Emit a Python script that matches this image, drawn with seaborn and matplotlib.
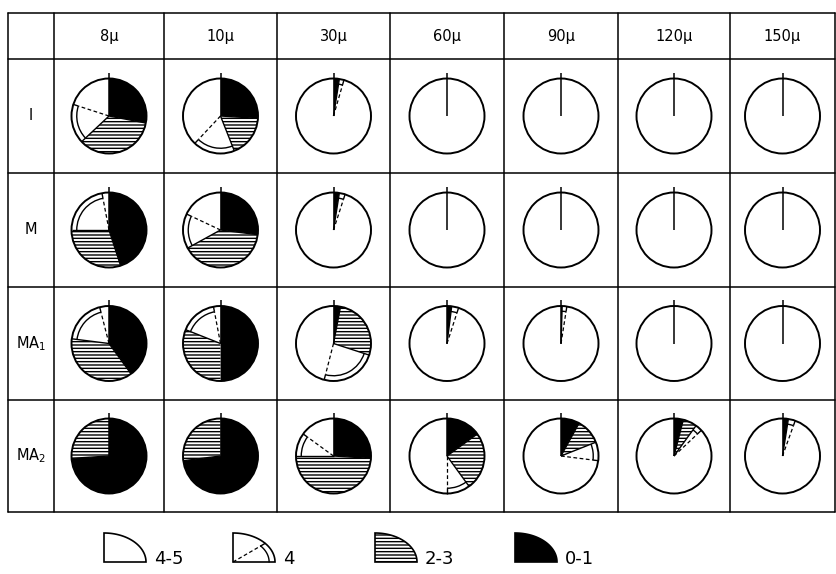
import numpy as np
import matplotlib
matplotlib.use("Agg")
import matplotlib.pyplot as plt
from matplotlib.patches import Arc, Circle, Polygon
import seaborn as sns

sns.set_theme(style="white")
plt.rcParams['font.family'] = ['DejaVu Sans']
plt.rcParams['hatch.linewidth'] = 1.0
plt.rcParams['hatch.color'] = 'black'

row_labels = ["I", "M", "MA$_1$", "MA$_2$"]
col_labels = ["8μ", "10μ", "30μ", "60μ", "90μ", "120μ", "150μ"]
legend_labels = ["4-5", "4", "2-3", "0-1"]

# percent of each grade (rows: I, M, MA1, MA2; columns: 8 .. 150 μ)
grade_0_1 = [[28, 26, 2.5, 0, 0, 0, 0],
             [45, 27, 2.5, 0, 0, 0, 0],
             [40, 50, 3, 2, 0.5, 0, 0],
             [74, 73, 26, 15, 8, 4, 2.5]]
grade_2_3 = [[35, 18, 0, 0, 0, 0, 0],
             [30, 40, 0, 0, 0, 0, 0],
             [37, 31, 27, 0, 0, 0, 0],
             [26, 27, 49, 25, 11, 6, 0]]
grade_4 = [[17, 18, 2, 0, 0, 0, 0],
           [22, 15, 2.5, 0, 0, 0, 0],
           [19, 16, 24, 3, 2, 0, 0],
           [0, 0, 10, 10, 8, 3, 3]]
grade_4_5 = [[20, 38, 95.5, 100, 100, 100, 100],
             [3, 18, 95, 100, 100, 100, 100],
             [4, 3, 46, 95, 97.5, 100, 100],
             [0, 0, 15, 50, 73, 87, 94.5]]

W, H = 836, 574
fig = plt.figure(figsize=(W / 100, H / 100), dpi=100)
ax = fig.add_axes([0, 0, 1, 1])

col_edges = [8, 54, 164, 277, 390, 504, 618, 730, 835]
row_edges = [13, 59, 173, 287, 400, 512]
R = 37.5
RIN = 0.86 * R


def Y(y):
    return H - y


def ray(cx, cy, a, r0, r1, **kw):
    t = np.deg2rad(a)
    ax.plot([cx + r0 * np.cos(t), cx + r1 * np.cos(t)],
            [cy + r0 * np.sin(t), cy + r1 * np.sin(t)],
            color='black', solid_capstyle='butt', **kw)


for i in range(len(row_labels)):
    for j in range(len(col_labels)):
        cx = (col_edges[j + 1] + col_edges[j + 2]) / 2
        cy = Y((row_edges[i + 1] + row_edges[i + 2]) / 2)
        vals = [grade_0_1[i][j], grade_2_3[i][j], grade_4[i][j], grade_4_5[i][j]]
        wedges, _ = ax.pie(vals, colors=['black', 'white', 'white', 'white'],
                           startangle=90, counterclock=False, center=(cx, cy),
                           radius=R, wedgeprops=dict(linewidth=0, edgecolor='black'))
        wedges[1].set_hatch('-----')
        total = sum(vals)
        cum = np.cumsum(vals) / total
        ang = 90 - 360 * cum
        ray(cx, cy, 90, 0, R + 6, lw=1.1)
        if 0 < vals[0] < total:
            ray(cx, cy, ang[0], 0, R, lw=1.0)
        if vals[1] > 0 and cum[1] < 0.999:
            ray(cx, cy, ang[1], 0, R, lw=1.0)
        if vals[2] > 0:
            ray(cx, cy, ang[2], 0, RIN, lw=0.9, linestyle=(0, (3, 2)))
            ray(cx, cy, ang[2], RIN, R, lw=1.0)
            ax.add_patch(Arc((cx, cy), 2 * RIN, 2 * RIN, theta1=ang[2], theta2=ang[1],
                             color='black', lw=1.0))
        ax.add_patch(Circle((cx, cy), R, fill=False, edgecolor='black', lw=1.4))

# table grid
for x in col_edges:
    ax.plot([x, x], [Y(row_edges[0]), Y(row_edges[-1])], color='black', lw=1.1)
for y in row_edges:
    ax.plot([col_edges[0], col_edges[-1]], [Y(y), Y(y)], color='black', lw=1.1)

for j, lab in enumerate(col_labels):
    cx = (col_edges[j + 1] + col_edges[j + 2]) / 2
    ax.text(cx, Y((row_edges[0] + row_edges[1]) / 2), lab, ha='center', va='center',
            fontsize=10.5, color='black')
for i, lab in enumerate(row_labels):
    cy = Y((row_edges[i + 1] + row_edges[i + 2]) / 2)
    ax.text((col_edges[0] + col_edges[1]) / 2, cy, lab, ha='center', va='center',
            fontsize=10.5, color='black')

# legend (quarter-sector symbols)
leg_x = [104, 233, 375, 515]
leg_bottom = Y(562)
lw_, lh_ = 42, 29
t = np.linspace(0, np.pi / 2, 60)
for k, lab in enumerate(legend_labels):
    x0 = leg_x[k]
    pts = [(x0, leg_bottom)] + [(x0 + lw_ * np.cos(a), leg_bottom + lh_ * np.sin(a)) for a in t[::-1]]
    fc = 'black' if lab == '0-1' else 'white'
    poly = Polygon(pts, closed=True, facecolor=fc, edgecolor='black', lw=1.2)
    if lab == '2-3':
        poly.set_hatch('-----')
    ax.add_patch(poly)
    if lab == '4':
        a4 = np.deg2rad(40)
        k_in = 0.86
        ax.plot([x0, x0 + k_in * lw_ * np.cos(a4)], [leg_bottom, leg_bottom + k_in * lh_ * np.sin(a4)],
                color='black', lw=0.9, linestyle=(0, (3, 2)))
        tt = np.linspace(0, a4, 30)
        ax.plot(x0 + k_in * lw_ * np.cos(tt), leg_bottom + k_in * lh_ * np.sin(tt), color='black', lw=1.0)
        ax.plot([x0 + k_in * lw_ * np.cos(a4), x0 + lw_ * np.cos(a4)],
                [leg_bottom + k_in * lh_ * np.sin(a4), leg_bottom + lh_ * np.sin(a4)], color='black', lw=1.0)
    ax.text(x0 + lw_ + 8, leg_bottom - 2, lab, ha='left', va='baseline', fontsize=13, color='black')

ax.set_xlim(0, W)
ax.set_ylim(0, H)
ax.set_aspect('auto')
ax.axis('off')
fig.savefig('out.png', dpi=100, facecolor='white')
